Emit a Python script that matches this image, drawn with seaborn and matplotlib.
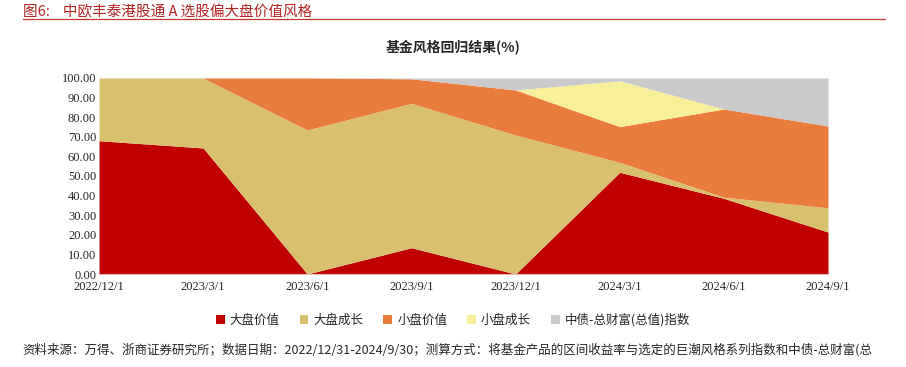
import numpy as np
import seaborn as sns
import matplotlib.pyplot as plt
from matplotlib.patches import Patch

dates = ['2022/12/1', '2023/3/1', '2023/6/1', '2023/9/1', '2023/12/1', '2024/3/1', '2024/6/1', '2024/9/1']
large_value = [68.0, 64.3, 0.0, 13.4, 0.0, 51.9, 38.6, 21.4]
large_growth = [32.0, 35.7, 73.5, 73.7, 70.9, 5.1, 0.6, 12.4]
small_value = [0.0, 0.0, 26.5, 12.5, 23.0, 18.2, 45.0, 41.7]
small_growth = [0.0, 0.0, 0.0, 0.0, 0.0, 23.4, 0.0, 0.0]
bond_index = [0.0, 0.0, 0.0, 0.4, 6.1, 1.4, 15.8, 24.5]

names = ['大盘价值', '大盘成长', '小盘价值', '小盘成长', '中债-总财富(总值)指数']
colors = ['#C00000', '#D9C06E', '#E97B3D', '#F8EF9B', '#CACACA']

sns.set_style('white')
plt.rcParams['font.family'] = ['Noto Sans CJK SC', 'DejaVu Sans']
serif = ['Liberation Serif', 'DejaVu Serif']

fig = plt.figure(figsize=(9.06, 3.67), dpi=100)
ax = fig.add_axes([0.1093, 0.2534, 0.8046, 0.5341])

x = np.arange(len(dates))
ax.stackplot(x, large_value, large_growth, small_value, small_growth, bond_index,
             colors=colors, linewidth=0)

ax.set_xlim(0, len(dates) - 1)
ax.set_ylim(0, 100)
ax.set_xticks(x)
ax.set_xticklabels(dates, fontfamily=serif, fontsize=9)
ax.set_yticks(np.arange(0, 101, 10))
ax.set_yticklabels([f'{v:.2f}' for v in np.arange(0, 101, 10)], fontfamily=serif, fontsize=9)
ax.tick_params(axis='x', length=3, color='#d9d9d9', pad=2)
ax.tick_params(axis='y', length=0, pad=2)
for s in ['top', 'right', 'left']:
    ax.spines[s].set_visible(False)
ax.spines['bottom'].set_color('#e6b8b8')

fig.text(0.025, 0.985, '图6:    中欧丰泰港股通 A 选股偏大盘价值风格', fontsize=10.5,
         color='#B22222', va='top', ha='left')
fig.add_artist(plt.Line2D([0.025, 0.977], [0.948, 0.948], color='#C0392B', linewidth=0.9))
fig.text(0.5, 0.872, '基金风格回归结果(%)', fontsize=10, fontweight='bold',
         ha='center', va='center')

handles = [Patch(facecolor=c, edgecolor='none') for c in colors]
fig.legend(handles, names, loc='center', bbox_to_anchor=(0.5, 0.128), ncol=5,
           frameon=False, fontsize=9, handlelength=0.7, handleheight=0.7,
           handletextpad=0.4, columnspacing=1.6)

fig.text(0.025, 0.046, '资料来源：万得、浙商证券研究所；数据日期：2022/12/31-2024/9/30；测算方式：将基金产品的区间收益率与选定的巨潮风格系列指数和中债-总财富(总',
         fontsize=9, ha='left', va='center')

fig.savefig('out.png', dpi=100)
